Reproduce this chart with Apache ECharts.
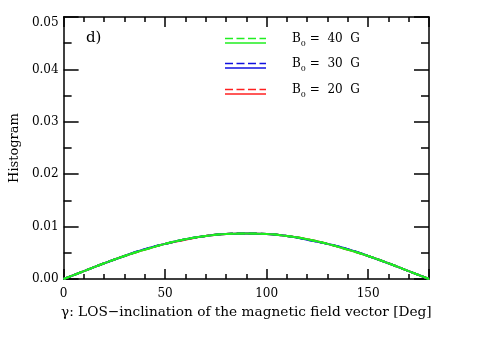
<!DOCTYPE html>
<html>
<head>
<meta charset="utf-8">
<script src="https://cdn.jsdelivr.net/npm/echarts@6/dist/echarts.min.js"></script>
<style>
  html, body { margin: 0; padding: 0; background: #fff; }
  #chart { width: 491px; height: 350px; }
</style>
</head>
<body>
<div id="chart"></div>
<script>
// inclination angle (deg)
const gamma = [0, 10, 20, 30, 40, 50, 60, 70, 80, 90, 100, 110, 120, 130, 140, 150, 160, 170, 180];
// histogram for each field strength
const hist40 = [0, 0.0015, 0.0030, 0.0044, 0.0056, 0.0067, 0.0076, 0.0082, 0.0086, 0.0087, 0.0086, 0.0082, 0.0076, 0.0067, 0.0056, 0.0044, 0.0030, 0.0015, 0];
const hist30 = [0, 0.0015, 0.0030, 0.0044, 0.0057, 0.0067, 0.0076, 0.0082, 0.0086, 0.0087, 0.0086, 0.0082, 0.0075, 0.0067, 0.0057, 0.0044, 0.0030, 0.0015, 0];
const hist20 = [0, 0.0015, 0.0030, 0.0044, 0.0056, 0.0067, 0.0075, 0.0082, 0.0086, 0.0087, 0.0086, 0.0082, 0.0076, 0.0067, 0.0056, 0.0044, 0.0030, 0.0015, 0];
const yTicks = ['0.00', '0.01', '0.02', '0.03', '0.04', '0.05'];

const font = 'DejaVu Serif';

function pairs(ys) {
  return gamma.map((g, i) => [g, ys[i]]);
}

function curve(name, ys, color, dashed) {
  return {
    name: name,
    type: 'line',
    data: pairs(ys),
    smooth: true,
    showSymbol: false,
    silent: true,
    lineStyle: { color: color, width: 2, type: dashed ? [8, 4] : 'solid' },
  };
}

const myChart = echarts.init(document.getElementById('chart'));

// legend swatches: dashed above solid, then label
const legend = [
  { color: '#ff2020', label: '20', y: 92 },
  { color: '#1010e0', label: '30', y: 66 },
  { color: '#20ee20', label: '40', y: 41 },
];
const graphics = [{
  type: 'text', left: 86, top: 31,
  style: { text: 'd)', font: '15px "DejaVu Serif"', fill: '#000' },
}];
legend.forEach((l) => {
  graphics.push({
    type: 'line', shape: { x1: 225, y1: l.y - 2.5, x2: 266, y2: l.y - 2.5 },
    style: { stroke: l.color, lineWidth: 1.5, lineDash: [8, 3.5] },
  });
  graphics.push({
    type: 'line', shape: { x1: 225, y1: l.y + 2, x2: 266, y2: l.y + 2 },
    style: { stroke: l.color, lineWidth: 1.5 },
  });
  graphics.push({
    type: 'text', left: 292, top: l.y - 8,
    style: {
      text: '{b|B}{s|0}{b| =  ' + l.label + '  G}',
      rich: {
        b: { fontFamily: font, fontSize: 12, fill: '#000' },
        s: { fontFamily: font, fontSize: 8, fill: '#000', padding: [9, 0, 0, 0] },
      },
    },
  });
});

const tickStyle = { color: '#000', width: 1.5 };

myChart.setOption({
  animation: false,
  grid: { left: 61, right: 62, top: 17, bottom: 71 },
  xAxis: [{
    type: 'value', min: 0, max: 180, interval: 50,
    name: 'γ: LOS−inclination of the magnetic field vector [Deg]',
    nameLocation: 'middle', nameGap: 26,
    nameTextStyle: { fontFamily: font, fontSize: 13.7, color: '#000' },
    axisLine: { onZero: false, lineStyle: { color: '#000', width: 1.5 } },
    axisTick: { inside: true, length: 10, lineStyle: tickStyle },
    minorTick: { show: true, splitNumber: 5, length: 5, lineStyle: tickStyle },
    axisLabel: { fontFamily: font, fontSize: 12, color: '#000', margin: 9, showMaxLabel: false },
    splitLine: { show: false },
  }, {
    type: 'value', min: 0, max: 180, interval: 50, position: 'top',
    axisLine: { onZero: false, lineStyle: { color: '#000', width: 1.5 } },
    axisTick: { inside: true, length: 10, lineStyle: tickStyle },
    minorTick: { show: true, splitNumber: 5, length: 5, lineStyle: tickStyle },
    axisLabel: { show: false },
    splitLine: { show: false },
  }],
  yAxis: [{
    type: 'value', min: 0, max: 0.05, interval: 0.01,
    name: 'Histogram', nameLocation: 'middle', nameGap: 42,
    nameTextStyle: { fontFamily: font, fontSize: 13, color: '#000' },
    axisLine: { onZero: false, lineStyle: { color: '#000', width: 1.5 } },
    axisTick: { inside: true, length: 15, lineStyle: tickStyle },
    minorTick: { show: true, splitNumber: 2, length: 8, lineStyle: tickStyle },
    axisLabel: {
      fontFamily: font, fontSize: 12, color: '#000', margin: 5,
      verticalAlignMaxLabel: 'top',
      formatter: (v) => yTicks[Math.round(v * 100)],
    },
    splitLine: { show: false },
  }, {
    type: 'value', min: 0, max: 0.05, interval: 0.01, position: 'right',
    axisLine: { show: true, onZero: false, lineStyle: { color: '#000', width: 1.5 } },
    axisTick: { show: true, inside: true, length: 15, lineStyle: tickStyle },
    minorTick: { show: true, splitNumber: 2, length: 8, lineStyle: tickStyle },
    axisLabel: { show: false },
    splitLine: { show: false },
  }],
  series: [
    curve('B0 = 20 G dashed', hist20, '#ff2020', true),
    curve('B0 = 20 G', hist20, '#ff2020', false),
    curve('B0 = 30 G dashed', hist30, '#1010e0', true),
    curve('B0 = 30 G', hist30, '#1010e0', false),
    curve('B0 = 40 G dashed', hist40, '#20ee20', true),
    curve('B0 = 40 G', hist40, '#20ee20', false),
  ],
  graphic: graphics,
});
</script>
</body>
</html>
